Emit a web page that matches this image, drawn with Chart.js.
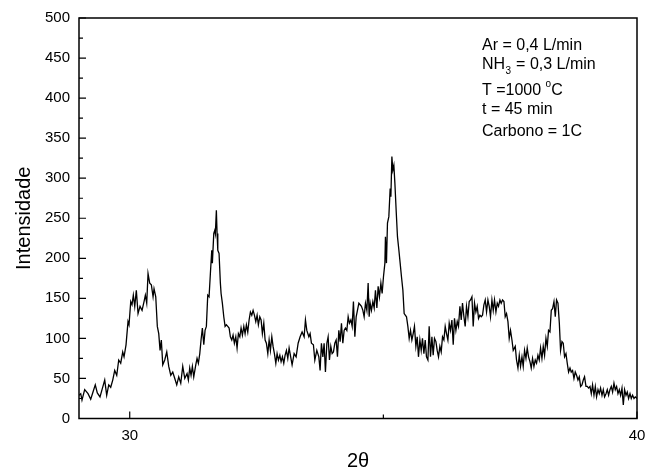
<!DOCTYPE html>
<html>
<head>
<meta charset="utf-8">
<title>Difratograma</title>
<script src="https://cdn.jsdelivr.net/npm/chart.js@4/dist/chart.umd.min.js"></script>
<style>
  html, body { margin: 0; padding: 0; background: #fff; }
  #wrap { width: 648px; height: 475px; position: relative; }
</style>
</head>
<body>
<div id="wrap"><canvas id="xrd-chart"></canvas></div>
<script>
// 2-theta positions (degrees) and measured intensities
const twoTheta = [
  29.000, 29.034, 29.059, 29.112, 29.178, 29.231, 29.276, 29.321, 29.361, 29.414,
  29.454, 29.507, 29.546, 29.586, 29.625, 29.665, 29.704, 29.744, 29.783, 29.822,
  29.862, 29.888, 29.927, 29.966, 29.986, 30.020, 30.045, 30.071, 30.099, 30.130,
  30.164, 30.203, 30.243, 30.282, 30.308, 30.335, 30.361, 30.394, 30.426, 30.460,
  30.479, 30.513, 30.544, 30.572, 30.598, 30.623, 30.651, 30.690, 30.730, 30.769,
  30.809, 30.848, 30.888, 30.927, 30.966, 31.006, 31.045, 31.085,
  31.130, 31.156, 31.183, 31.209, 31.235, 31.262, 31.302, 31.327, 31.353, 31.381,
  31.406, 31.432, 31.460, 31.485, 31.511, 31.538, 31.564, 31.590, 31.617, 31.629,
  31.657, 31.677, 31.688, 31.708, 31.722, 31.736, 31.761, 31.787, 31.801, 31.826,
  31.854, 31.880, 31.905, 31.933, 31.959, 31.984, 32.012, 32.037, 32.063, 32.091,
  32.116, 32.142, 32.170, 32.195, 32.221, 32.249, 32.274, 32.300, 32.327, 32.353,
  32.379, 32.406, 32.432, 32.458, 32.485, 32.511, 32.536, 32.564, 32.590, 32.615,
  32.643, 32.669, 32.694, 32.722, 32.748, 32.773, 32.801, 32.826, 32.852, 32.880,
  32.905, 32.931, 32.959, 32.984, 33.010, 33.037, 33.063, 33.089, 33.116, 33.142,
  33.201, 33.241, 33.280, 33.320, 33.359, 33.398, 33.438, 33.464, 33.491, 33.531,
  33.556, 33.582, 33.621, 33.649, 33.688, 33.728, 33.753, 33.779, 33.807, 33.832,
  33.858, 33.886, 33.911, 33.937, 33.964, 33.990, 34.016, 34.043, 34.069, 34.095,
  34.122, 34.148, 34.174, 34.201, 34.227, 34.252, 34.280, 34.306, 34.331, 34.359,
  34.385, 34.410, 34.438, 34.464, 34.489, 34.517, 34.542, 34.568, 34.596, 34.621,
  34.647, 34.675, 34.700, 34.720, 34.740, 34.765, 34.793, 34.819, 34.844, 34.872,
  34.897, 34.923, 34.951, 34.976, 35.002, 35.030, 35.041, 35.061, 35.081, 35.108,
  35.134, 35.148, 35.168, 35.187, 35.207, 35.227, 35.252, 35.278, 35.306, 35.331,
  35.357, 35.385, 35.410,
  35.456, 35.483, 35.509, 35.535, 35.562, 35.588, 35.613, 35.641, 35.667, 35.692,
  35.720, 35.746, 35.771, 35.799, 35.825, 35.850, 35.878, 35.903, 35.929, 35.957,
  35.982, 36.008, 36.036, 36.061, 36.087, 36.114, 36.140, 36.166, 36.193, 36.219,
  36.245, 36.272, 36.298, 36.323, 36.351, 36.377, 36.402, 36.430, 36.456, 36.481,
  36.509, 36.535, 36.560, 36.588, 36.613, 36.639, 36.667, 36.692, 36.718, 36.746,
  36.771, 36.797, 36.824, 36.850, 36.876, 36.903, 36.929, 36.955, 36.982, 37.008,
  37.034, 37.061, 37.087, 37.112, 37.140, 37.166, 37.191, 37.219, 37.245, 37.270,
  37.298, 37.323, 37.349, 37.377, 37.402, 37.428, 37.456, 37.481, 37.507, 37.535,
  37.560,
  37.600, 37.625, 37.653, 37.679, 37.704, 37.732, 37.757, 37.783, 37.811, 37.836,
  37.862, 37.890, 37.915, 37.941, 37.968, 37.994, 38.020, 38.047, 38.073, 38.099,
  38.126, 38.152, 38.178, 38.205, 38.231, 38.256, 38.284, 38.310, 38.335, 38.363,
  38.389, 38.414, 38.442, 38.469, 38.493, 38.521, 38.546, 38.572, 38.600, 38.625,
  38.651, 38.679, 38.704, 38.730, 38.757, 38.783, 38.809, 38.836, 38.862, 38.888,
  38.915, 38.941, 38.966, 38.994, 39.020, 39.045, 39.073, 39.099, 39.124, 39.152,
  39.178, 39.203, 39.231, 39.256, 39.282, 39.310, 39.335, 39.361, 39.389, 39.414,
  39.440, 39.467, 39.493, 39.519, 39.546, 39.572, 39.598, 39.625, 39.651, 39.677,
  39.704, 39.730, 39.755, 39.783, 39.808, 39.834, 39.862, 39.887, 39.913, 39.941,
  39.966, 40.000
];

const intensity = [
   29,  31,  23,  36,  31,  24,  33,  42,  32,  27,
   36,  48,  29,  42,  39,  48,  60,  54,  73,  69,
   83,  77,  92, 121, 117, 146, 142, 154, 140, 160,
  131, 140, 135, 146, 154, 144, 181, 169, 167, 152,
  162, 152, 115, 106,  85,  98,  67,  73,  83,  65,
   54,  58,  50,  42,  52,  44,  65,  50,
   56,  48,  63,  54,  65,  52,  67,  75,  69,  81,
   98, 113,  92, 110, 115, 154, 152, 181, 210, 194,
  231, 235, 231, 260, 231, 210, 206, 169, 156, 144,
  127, 115, 117, 115, 113, 102,  98, 104,  94, 102,
   88, 106, 102, 113, 104, 115, 106, 117, 108, 123,
  133, 129, 135, 129, 121, 129, 117, 127, 123, 106,
  119,  98,  94,  81,  98,  85, 102,  90,  81,  69,
   81,  73,  79,  71,  77,  69,  79,  85,  75,  88,
   67,  81,  77,  94, 102, 108, 102, 123, 110, 102,
  106,  94,  92,  73,  85,  77,  60,  94,  77,  94,
   58,  94, 102,  73,  90,  81,  83,  94,  98,  77,
  110,  96, 119,  94, 110, 113, 110, 127, 119, 123,
  115, 146, 102, 127, 135, 144, 142, 140, 135, 127,
  144, 135, 169, 127, 144, 135, 146, 138, 160, 138,
  165, 152, 169, 156, 177, 194, 227, 194, 244, 252,
  287, 277, 327, 310, 316, 294, 260, 227, 210, 194,
  177, 160, 131,
  127, 115, 100, 110,  98, 106, 115,  90, 102,  77,
   98,  85, 100,  81,  98,  77,  73, 115,  77, 102,
   79, 100,  96,  85,  77,  90,  83, 102,  98, 115,
  106,  98, 119, 110, 123,  92, 125, 110, 121, 115,
  140, 123, 144, 127, 115, 140, 127, 146, 148, 152,
  115, 144, 133, 140, 125, 129, 127, 129, 142, 148,
  133, 148, 140, 127, 148, 135, 148, 133, 144, 140,
  148, 144, 148, 146, 127, 131, 121, 100, 110,  98,
   85,
   90,  73,  63,  79,  65,  77,  65,  85,  75,  88,
   77,  71,  63,  75,  65,  73,  69,  79,  73,  88,
   75,  90,  79, 100,  90, 110, 108, 135, 137, 146,
  127, 148, 144, 119,  85,  96,  94,  77,  81,  69,
   58,  63,  58,  60,  50,  58,  54,  48,  52,  40,
   42,  48,  52,  40,  40,  38,  40,  31,  42,  29,
   40,  27,  36,  31,  38,  29,  36,  27,  31,  36,
   29,  36,  40,  33,  44,  36,  40,  31,  36,  29,
   38,  17,  36,  29,  33,  25,  31,  25,  29,  25,
   27,  25
];

// Axis ranges and tick positions
const xRange = [29, 40];
const yRange = [0, 500];
const xMajorTicks = [30, 40];
const xMinorTicks = [35];
const yMajorTicks = [0, 50, 100, 150, 200, 250, 300, 350, 400, 450, 500];
const yMinorTicks = [25, 75, 125, 175, 225, 275, 325, 375, 425, 475];

const FONT = "'Liberation Sans', Arial, Helvetica, sans-serif";

// Frame on all four sides, inward tick marks and the conditions box
const frameAndNotes = {
  id: 'frameAndNotes',
  afterDraw(chart) {
    const { ctx, chartArea: a, scales: { x, y } } = chart;
    ctx.save();
    ctx.strokeStyle = '#000';
    ctx.lineWidth = 1.5;
    ctx.strokeRect(a.left, a.top, a.right - a.left, a.bottom - a.top);

    ctx.lineWidth = 1.2;
    ctx.beginPath();
    yMajorTicks.forEach(v => {
      const py = y.getPixelForValue(v);
      ctx.moveTo(a.left, py);
      ctx.lineTo(a.left + 7, py);
    });
    yMinorTicks.forEach(v => {
      const py = y.getPixelForValue(v);
      ctx.moveTo(a.left, py);
      ctx.lineTo(a.left + 4, py);
    });
    xMajorTicks.forEach(v => {
      const px = x.getPixelForValue(v);
      ctx.moveTo(px, a.bottom);
      ctx.lineTo(px, a.bottom - 7);
    });
    xMinorTicks.forEach(v => {
      const px = x.getPixelForValue(v);
      ctx.moveTo(px, a.bottom);
      ctx.lineTo(px, a.bottom - 4);
    });
    ctx.stroke();

    // Synthesis conditions
    ctx.fillStyle = '#000';
    ctx.textBaseline = 'alphabetic';
    ctx.textAlign = 'left';
    const big = '16px ' + FONT;
    const small = '10px ' + FONT;
    const left = 482;

    ctx.font = big;
    ctx.fillText('Ar = 0,4 L/min', left, 50);

    let cx = left;
    ctx.fillText('NH', cx, 69);
    cx += ctx.measureText('NH').width;
    ctx.font = small;
    ctx.fillText('3', cx + 0.5, 74);
    cx += ctx.measureText('3').width + 1;
    ctx.font = big;
    ctx.fillText(' = 0,3 L/min', cx, 69);

    cx = left;
    ctx.fillText('T =1000 ', cx, 95);
    cx += ctx.measureText('T =1000 ').width;
    ctx.font = small;
    ctx.fillText('o', cx, 87);
    cx += ctx.measureText('o').width;
    ctx.font = big;
    ctx.fillText('C', cx, 95);

    ctx.fillText('t = 45 min', left, 114);
    ctx.fillText('Carbono = 1C', left, 136);
    ctx.restore();
  }
};

const points = twoTheta.map((t, i) => ({ x: t, y: intensity[i] }));

new Chart(document.getElementById('xrd-chart'), {
  type: 'line',
  data: {
    datasets: [{
      data: points,
      borderColor: '#000',
      borderWidth: 1.3,
      pointRadius: 0,
      tension: 0,
      fill: false
    }]
  },
  options: {
    responsive: true,
    maintainAspectRatio: false,
    animation: false,
    events: [],
    layout: { padding: { top: 18, right: 11, left: 0, bottom: 0 } },
    plugins: {
      legend: { display: false },
      tooltip: { enabled: false }
    },
    scales: {
      x: {
        type: 'linear',
        min: xRange[0],
        max: xRange[1],
        afterBuildTicks: scale => {
          scale.ticks = xMajorTicks.map(v => ({ value: v }));
        },
        afterFit: scale => {
          scale.height = 56.5;
          // the "40" label may hang past the frame; keep the plot width fixed
          scale.paddingLeft = 0;
          scale.paddingRight = 0;
        },
        grid: { display: false, drawTicks: false },
        border: { display: false },
        ticks: {
          color: '#000',
          padding: 8,
          maxRotation: 0,
          font: { family: FONT, size: 15 }
        },
        title: {
          display: true,
          text: '2θ',
          color: '#000',
          padding: { top: 0, bottom: 2 },
          font: { family: FONT, size: 20 }
        }
      },
      y: {
        min: yRange[0],
        max: yRange[1],
        afterBuildTicks: scale => {
          scale.ticks = yMajorTicks.map(v => ({ value: v }));
        },
        afterFit: scale => {
          scale.width = 79;
          scale.paddingTop = 0;
          scale.paddingBottom = 0;
        },
        grid: { display: false, drawTicks: false },
        border: { display: false },
        ticks: {
          color: '#000',
          padding: 9,
          font: { family: FONT, size: 15 }
        },
        title: {
          display: true,
          text: 'Intensidade',
          color: '#000',
          padding: { top: 12, bottom: 0 },
          font: { family: FONT, size: 20 }
        }
      }
    }
  },
  plugins: [frameAndNotes]
});
</script>
</body>
</html>
